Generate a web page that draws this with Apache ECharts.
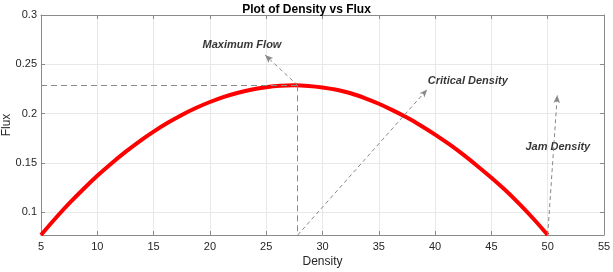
<!DOCTYPE html>
<html><head><meta charset="utf-8">
<script src="https://cdn.jsdelivr.net/npm/echarts@6/dist/echarts.min.js"></script>
<style>html,body{margin:0;padding:0;background:#fff}#c{width:613px;height:272px}</style>
</head><body><div id="c"></div>
<script>
// Data
const density = [5, 6.25, 7.5, 8.75, 10, 11.25, 12.5, 13.75, 15, 16.25, 17.5, 18.75, 20, 21.25, 22.5, 23.75, 25, 26.25, 27.5, 28.75, 30, 31.25, 32.5, 33.75, 35, 36.25, 37.5, 38.75, 40, 41.25, 42.5, 43.75, 45, 46.25, 47.5, 48.75, 50];
const flux    = [0.0770, 0.0935, 0.1090, 0.1234, 0.1370, 0.1495, 0.1612, 0.1720, 0.1818, 0.1907, 0.1987, 0.2057, 0.2118, 0.2170, 0.2212, 0.2245, 0.2268, 0.2282, 0.2287, 0.2281, 0.2266, 0.2242, 0.2207, 0.2158, 0.2100, 0.2033, 0.1960, 0.1878, 0.1788, 0.1690, 0.1584, 0.1470, 0.1350, 0.1223, 0.1083, 0.0932, 0.0770];
const xTicks = [5, 10, 15, 20, 25, 30, 35, 40, 45, 50, 55];
const yTicks = [0.1, 0.15, 0.2, 0.25, 0.3];
const peak = [27.8, 0.2287];
const yMin = 0.077;
// annotations: [label, arrowFrom, arrowTo, textPos]
const annoLabels = ['Maximum Flow', 'Critical Density', 'Jam Density'];
const annoFrom = [[27.8, 0.2287], [27.8, 0.077], [50, 0.077]];
const annoTo   = [[24.9, 0.2594], [39.3, 0.2246], [50.85, 0.2189]];
const annoText = [[22.85, 0.2696], [42.9, 0.2336], [50.9, 0.1660]];

const chart = echarts.init(document.getElementById('c'));
const font = 'Arial, "Liberation Sans", Helvetica, sans-serif';
const axisCol = '#8a8a8a';
const gridCol = '#e8e8e8';
const lineData = density.map((d, i) => [d, flux[i]]);

const markData = [
  [{coord: [5, peak[1]], symbol: 'none'}, {coord: peak, symbol: 'none', lineStyle: {type: [6, 4], color: '#8a8a8a', width: 1}}],
  [{coord: peak, symbol: 'none'}, {coord: [peak[0], yMin], symbol: 'none', lineStyle: {type: [6, 4], color: '#8a8a8a', width: 1}}]
];
annoFrom.forEach((f, i) => {
  markData.push([{coord: f, symbol: 'none'}, {coord: annoTo[i], symbol: 'arrow', symbolSize: [5, 8], lineStyle: {type: [4, 3], color: '#888', width: 1}, itemStyle: {color: '#222'}}]);
});

const xBase = {type: 'value', min: 5, max: 55, interval: 5,
  axisLine: {show: true, lineStyle: {color: axisCol, width: 1}},
  axisTick: {show: true, inside: true, length: 4, lineStyle: {color: axisCol}},
  splitLine: {show: false}};
const yBase = {type: 'value', min: yMin, max: 0.3,
  axisLine: {show: true, onZero: false, lineStyle: {color: axisCol, width: 1}},
  axisTick: {show: true, inside: true, length: 4, lineStyle: {color: axisCol}, customValues: yTicks},
  splitLine: {show: false}};

chart.setOption({
  animation: false,
  title: {text: 'Plot of Density vs Flux', left: 'center', top: -1,
    textStyle: {fontFamily: font, fontWeight: 'bold', fontSize: 12, color: '#000'}},
  grid: {left: 41, right: 9, top: 15, bottom: 37, containLabel: false, outerBoundsMode: 'none'},
  xAxis: [
    Object.assign({}, xBase, {position: 'bottom', name: 'Density', nameLocation: 'middle', nameGap: 21, nameMoveOverlap: false,
      nameTextStyle: {fontFamily: font, fontSize: 12, color: '#262626'},
      axisLabel: {show: true, margin: 6, fontFamily: font, fontSize: 11, color: '#262626'},
      splitLine: {show: true, lineStyle: {color: gridCol, width: 1}}}),
    Object.assign({}, xBase, {position: 'top', axisLabel: {show: false}})
  ],
  yAxis: [
    Object.assign({}, yBase, {position: 'left', name: 'Flux', nameLocation: 'middle', nameGap: 28, nameMoveOverlap: false,
      nameTextStyle: {fontFamily: font, fontSize: 12, color: '#262626'},
      axisLabel: {show: true, margin: 4, fontFamily: font, fontSize: 11, color: '#262626', customValues: yTicks},
      splitLine: {show: true, lineStyle: {color: gridCol, width: 1}}}),
    Object.assign({}, yBase, {position: 'right', axisLabel: {show: false}})
  ],
  series: [
    {type: 'line', data: lineData, smooth: 0.3, showSymbol: false, xAxisIndex: 0, yAxisIndex: 0,
      lineStyle: {color: '#ff0000', width: 4}, z: 3,
      markLine: {silent: true, animation: false, symbol: ['none', 'none'], label: {show: false}, data: markData}},
    {type: 'scatter', xAxisIndex: 0, yAxisIndex: 0, symbolSize: 0, silent: true,
      data: annoText.map((p, i) => ({value: p, name: annoLabels[i]})),
      label: {show: true, position: 'inside', formatter: p => p.name,
        fontFamily: font, fontSize: 11, fontWeight: 'bold', fontStyle: 'italic', color: '#000'}}
  ]
});
</script></body></html>
